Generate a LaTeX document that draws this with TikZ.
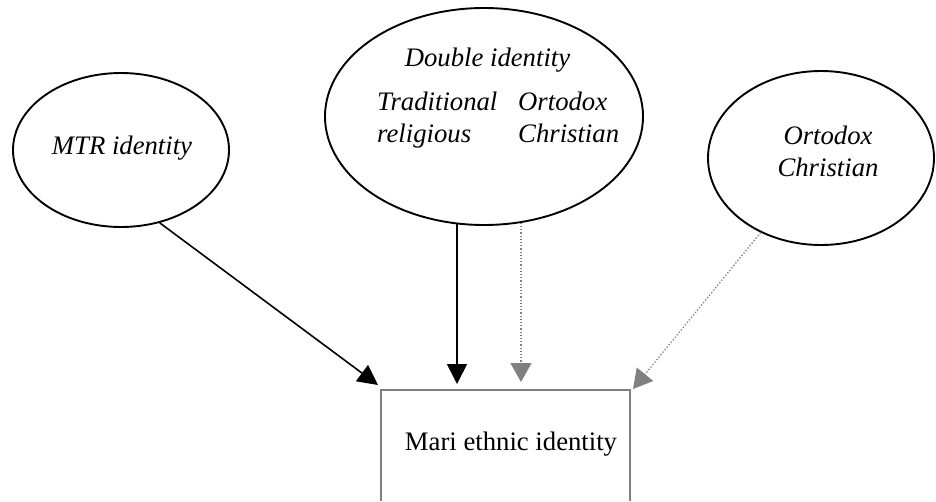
\documentclass[tikz,border=0pt]{standalone}
\usepackage{fontspec}
\setmainfont{Liberation Serif}
\usetikzlibrary{shapes.geometric,arrows.meta}
\begin{document}
\begin{tikzpicture}[x=1pt,y=-1pt,
  oval/.style={draw=black, line width=1.9pt, ellipse, inner sep=0pt},
  itext/.style={font=\fontsize{26.7}{32}\selectfont\itshape, inner sep=0pt},
  rtext/.style={font=\fontsize{26.7}{32}\selectfont, inner sep=0pt},
  solidarrow/.style={draw=black, line width=1.6pt, -{Triangle[length=20pt,width=20pt]}},
  dotarrow/.style={draw=gray, line width=1.3pt, dash pattern=on 1.3pt off 1.9pt, -{Triangle[length=19pt,width=21pt]}}
]
\useasboundingbox (0,0) rectangle (936,501);

% ellipses
\node[oval, minimum width=216pt, minimum height=154pt] (mtr) at (121,150) {};
\node[oval, minimum width=318pt, minimum height=217pt] (dbl) at (484,116.5) {};
\node[oval, minimum width=226pt, minimum height=174pt] (ort) at (821,158) {};

% texts in ellipses (base anchor of a multi-line node = last line)
\node[itext, anchor=base] (mtrtext) at (122,154) {MTR identity};
\node[itext, anchor=base] (dbltext) at (487.5,66) {Double identity};
\node[itext, anchor=base west, align=left] (tradtext) at (377,142.7) {Traditional\\religious};
\node[itext, anchor=base west, align=left] (orttext1) at (518,142.7) {Ortodox\\Christian};
\node[itext, anchor=base, align=center] (orttext2) at (828,176) {Ortodox\\Christian};

% box
\node[minimum width=249pt, minimum height=111pt, inner sep=0pt] (box) at (505.5,445.5) {};
\draw[gray, line width=1.5pt] (box.south west) -- (box.north west) -- (box.north east) -- (box.south east);
\node[rtext, anchor=base] (boxtext) at (511,450.7) {Mari ethnic identity};

% arrow tips
\coordinate (t1) at (378,385);
\coordinate (t2) at (457,384);
\coordinate (t3) at (521,382);
\coordinate (t4) at (633,389);

\draw[solidarrow] (mtr.-62) -- (t1);
\draw[solidarrow] (t2 |- dbl.-104) -- (t2);
\draw[dotarrow] (t3 |- dbl.-70.6) -- (t3);
\draw[dotarrow] (ort.-129.7) -- (t4);
\end{tikzpicture}
\end{document}
